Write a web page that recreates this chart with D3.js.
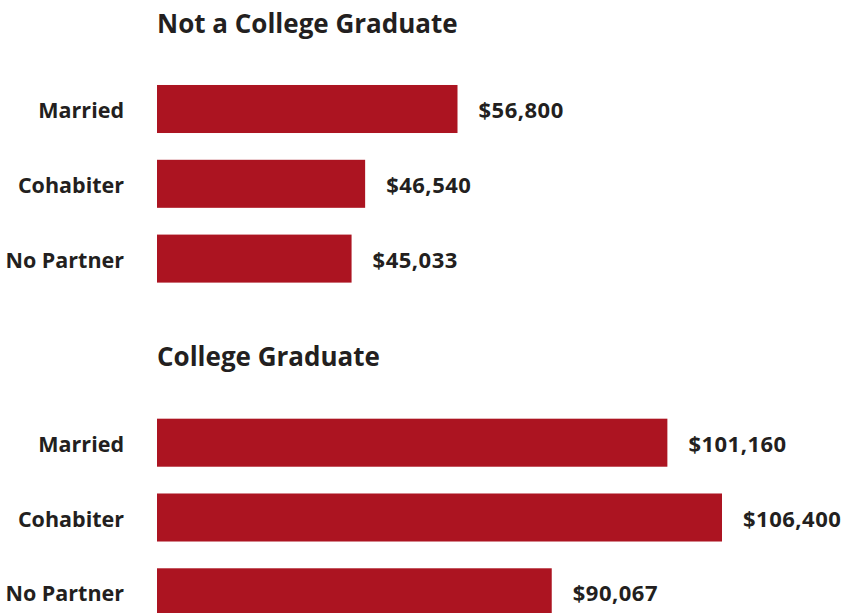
<!DOCTYPE html>
<html>
<head>
<meta charset="utf-8">
<script src="https://cdn.jsdelivr.net/npm/d3@7"></script>
<style>
  html, body { margin: 0; padding: 0; background: #ffffff; }
  svg { display: block; }
  text { font-family: "Open Sans", "Lato", sans-serif; font-weight: 700; fill: #231f20; }
</style>
</head>
<body>
<svg id="chart" width="845" height="613"></svg>
<script>
// Median household income by partnership status and education
const categories = ["Married", "Cohabiter", "No Partner"];
const panelTitles = ["Not a College Graduate", "College Graduate"];
const notGradValues = [56800, 46540, 45033];
const gradValues = [101160, 106400, 90067];

const fmt = v => "$" + d3.format(",")(v);

const svg = d3.select("#chart");
const barColor = "#ac1421";
const barLeft = 157;

// Each panel has its own value scale and vertical band layout
const panels = [
  { title: panelTitles[0], values: notGradValues, base: 23420, xEnd: 457.5, top: 71.6, titleY: 32.5 },
  { title: panelTitles[1], values: gradValues,    base: 52200, xEnd: 722.0, top: 405.3, titleY: 366.2 }
];

panels.forEach(p => {
  const g = svg.append("g");
  const x = d3.scaleLinear()
    .domain([p.base, d3.max(p.values)])
    .range([barLeft, p.xEnd]);
  const y = d3.scaleBand()
    .domain(categories)
    .range([p.top, p.top + 3 * 74.8])
    .paddingInner(0.358)
    .paddingOuter(0.179);

  g.append("text")
    .attr("x", barLeft)
    .attr("y", p.titleY)
    .attr("font-size", 26)
    .text(p.title);

  const rows = categories.map((c, i) => ({ c, v: p.values[i] }));

  g.selectAll("rect")
    .data(rows)
    .join("rect")
    .attr("x", barLeft)
    .attr("y", d => y(d.c))
    .attr("width", d => x(d.v) - barLeft)
    .attr("height", y.bandwidth())
    .attr("fill", barColor);

  g.selectAll("text.cat")
    .data(rows)
    .join("text")
    .attr("class", "cat")
    .attr("x", 124)
    .attr("y", d => y(d.c) + y.bandwidth() / 2 + 9)
    .attr("text-anchor", "end")
    .attr("font-size", 21.5)
    .text(d => d.c);

  g.selectAll("text.val")
    .data(rows)
    .join("text")
    .attr("class", "val")
    .attr("x", d => x(d.v) + 21)
    .attr("y", d => y(d.c) + y.bandwidth() / 2 + 9)
    .attr("font-size", 22)
    .attr("letter-spacing", 0.5)
    .text(d => fmt(d.v));
});
</script>
</body>
</html>
